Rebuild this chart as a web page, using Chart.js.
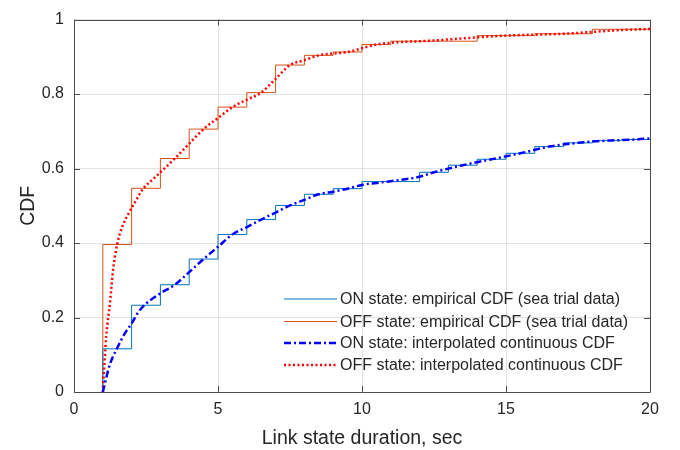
<!DOCTYPE html>
<html>
<head>
<meta charset="utf-8">
<script src="https://cdn.jsdelivr.net/npm/chart.js@4.4.1/dist/chart.umd.min.js"></script>
<style>
  html, body { margin: 0; padding: 0; background: #fff; }
  #wrap { width: 680px; height: 450px; position: relative; }
</style>
</head>
<body>
<div id="wrap"><canvas id="graficoCdf"></canvas></div>
<script>
// Empirical CDF (steps), first point is the jump start at 1 s
const stepX = [1, 1, 2, 3, 4, 5, 6, 7, 8, 9, 10, 11, 12, 13, 14, 15, 16, 17, 18, 19, 20];
const onStepY = [0, 0.116, 0.233, 0.288, 0.357, 0.423, 0.463, 0.501, 0.531, 0.546, 0.565, 0.565, 0.590, 0.609, 0.625, 0.641, 0.659, 0.669, 0.675, 0.678, 0.680];
const offStepY = [0, 0.396, 0.547, 0.627, 0.706, 0.765, 0.804, 0.878, 0.904, 0.913, 0.933, 0.942, 0.942, 0.942, 0.957, 0.957, 0.962, 0.962, 0.974, 0.974, 0.974];

// Interpolated continuous CDF
const onInterpX = [1, 1.25, 1.5, 1.77, 2, 2.23, 2.5, 3, 3.5, 4, 4.5, 5, 5.5, 6, 6.5, 7, 7.5, 8, 8.5, 9, 9.5, 10, 11, 12, 12.5, 13.5, 14.5, 15.5, 16.5, 17.5, 18.5, 19.5, 20];
const onInterpY = [0, 0.075, 0.118, 0.158, 0.184, 0.214, 0.237, 0.265, 0.288, 0.322, 0.357, 0.390, 0.423, 0.443, 0.463, 0.482, 0.501, 0.516, 0.531, 0.538, 0.546, 0.556, 0.566, 0.578, 0.590, 0.609, 0.625, 0.641, 0.659, 0.669, 0.675, 0.678, 0.681];
const offInterpX = [1, 1.12, 1.25, 1.36, 1.5, 1.66, 1.9, 2.12, 2.4, 2.75, 3, 3.5, 4, 4.5, 5, 5.5, 6, 6.5, 7, 7.5, 8, 8.5, 9.5, 10.5, 12.5, 15, 17, 19, 20];
const offInterpY = [0, 0.150, 0.240, 0.330, 0.397, 0.441, 0.480, 0.510, 0.546, 0.572, 0.590, 0.627, 0.667, 0.706, 0.736, 0.765, 0.785, 0.804, 0.841, 0.878, 0.891, 0.904, 0.913, 0.933, 0.944, 0.957, 0.962, 0.972, 0.975];

const seriesLabels = [
    'ON state: empirical CDF (sea trial data)',
    'OFF state: empirical CDF (sea trial data)',
    'ON state: interpolated continuous CDF',
    'OFF state: interpolated continuous CDF'
];
const xLabel = 'Link state duration, sec';
const yLabel = 'CDF';

const toPoints = (xs, ys) => xs.map((x, i) => ({ x: x, y: ys[i] }));

const textColor = '#262626';
const axisColor = '#4d4d4d';
const fontFamily = '"Liberation Sans", Arial, Helvetica, sans-serif';

// caixa completa + marcas de escala para dentro (estilo MATLAB)
const boxPlugin = {
    id: 'boxPlugin',
    afterDraw(chart) {
        const ctx = chart.ctx;
        const a = chart.chartArea;
        const xs = chart.scales.x, ys = chart.scales.y;
        const t = 6;
        ctx.save();
        ctx.strokeStyle = axisColor;
        ctx.lineWidth = 1;
        ctx.beginPath();
        ctx.rect(Math.round(a.left) + 0.5, Math.round(a.top) + 0.5, Math.round(a.right - a.left), Math.round(a.bottom - a.top));
        xs.ticks.forEach(tk => {
            const px = Math.round(xs.getPixelForValue(tk.value)) + 0.5;
            ctx.moveTo(px, a.bottom); ctx.lineTo(px, a.bottom - t);
            ctx.moveTo(px, a.top); ctx.lineTo(px, a.top + t);
        });
        ys.ticks.forEach(tk => {
            const py = Math.round(ys.getPixelForValue(tk.value)) + 0.5;
            ctx.moveTo(a.left, py); ctx.lineTo(a.left + t, py);
            ctx.moveTo(a.right, py); ctx.lineTo(a.right - t, py);
        });
        ctx.stroke();
        ctx.restore();
    }
};

// legenda dentro da área do gráfico, sem moldura
const legendInside = {
    id: 'legendInside',
    afterDatasetsDraw(chart) {
        const ctx = chart.ctx;
        const x0 = 284, x1 = 337, tx = 340;
        const rowY = [299, 321.5, 343, 365];
        ctx.save();
        ctx.font = '16px ' + fontFamily;
        ctx.textBaseline = 'middle';
        chart.data.datasets.forEach((ds, i) => {
            ctx.beginPath();
            ctx.strokeStyle = ds.borderColor;
            ctx.lineWidth = ds.borderWidth;
            ctx.setLineDash(ds.borderDash || []);
            ctx.moveTo(x0, rowY[i]); ctx.lineTo(x1, rowY[i]);
            ctx.stroke();
            ctx.setLineDash([]);
            ctx.fillStyle = textColor;
            ctx.fillText(ds.label, tx, rowY[i] + 1);
        });
        ctx.restore();
    }
};

const ctxCdf = document.getElementById('graficoCdf').getContext('2d');
new Chart(ctxCdf, {
    type: 'line',
    data: {
        datasets: [{
            label: seriesLabels[0],
            data: toPoints(stepX, onStepY),
            stepped: 'before',
            borderColor: '#0072BD',
            borderWidth: 1,
            pointRadius: 0,
            order: 1
        }, {
            label: seriesLabels[1],
            data: toPoints(stepX, offStepY),
            stepped: 'before',
            borderColor: '#D95319',
            borderWidth: 1,
            pointRadius: 0,
            order: 1
        }, {
            label: seriesLabels[2],
            data: toPoints(onInterpX, onInterpY),
            cubicInterpolationMode: 'monotone',
            borderColor: '#0000FF',
            borderWidth: 2.5,
            borderDash: [7, 3, 2, 3],
            pointRadius: 0,
            order: 0
        }, {
            label: seriesLabels[3],
            data: toPoints(offInterpX, offInterpY),
            cubicInterpolationMode: 'monotone',
            borderColor: '#FF0000',
            borderWidth: 2.5,
            borderDash: [2, 2.5],
            pointRadius: 0,
            order: 0
        }]
    },
    options: {
        responsive: true,
        maintainAspectRatio: false,
        animation: false,
        layout: { padding: { left: 0, right: 30, top: 9, bottom: 0 } },
        plugins: { legend: { display: false }, tooltip: { enabled: false } },
        scales: {
            x: {
                type: 'linear', min: 0, max: 20,
                ticks: { stepSize: 5, padding: 8, color: textColor, font: { family: fontFamily, size: 16 } },
                grid: { color: '#e3e3e3', drawTicks: false },
                border: { display: false },
                title: { display: true, text: xLabel, color: textColor, font: { family: fontFamily, size: 19.5 }, padding: { top: 0, bottom: 0 } },
                afterFit(scale) { scale.height = 58; }
            },
            y: {
                type: 'linear', min: 0, max: 1,
                ticks: {
                    stepSize: 0.2, padding: 10, color: textColor, font: { family: fontFamily, size: 16 },
                    callback: v => String(+v.toFixed(1))
                },
                grid: { color: '#e3e3e3', drawTicks: false },
                border: { display: false },
                title: { display: true, text: yLabel, color: textColor, font: { family: fontFamily, size: 19.5 }, padding: { top: 17, bottom: 0 } },
                afterFit(scale) { scale.width = 74; }
            }
        }
    },
    plugins: [boxPlugin, legendInside]
});
</script>
</body>
</html>
